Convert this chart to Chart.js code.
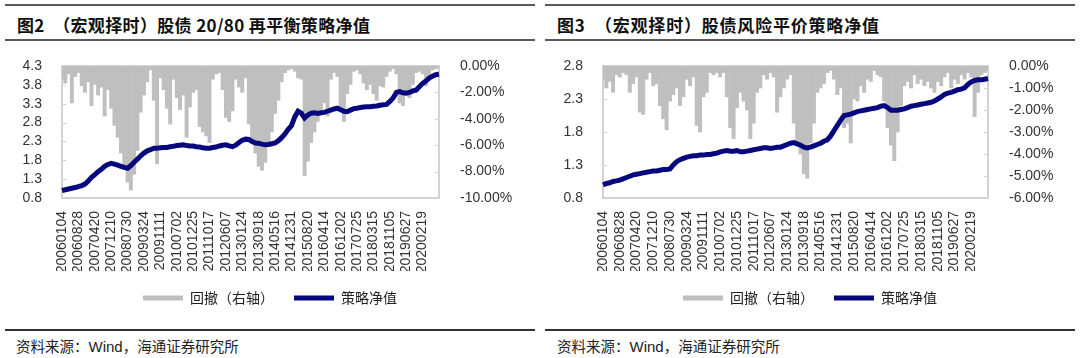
<!DOCTYPE html>
<html>
<head>
<meta charset="utf-8">
<script src="https://cdn.jsdelivr.net/npm/chart.js@4/dist/chart.umd.min.js"></script>
<style>
  body { margin: 0; width: 1080px; height: 358px; background: #fff; position: relative; overflow: hidden; font-family: "Noto Sans CJK SC", sans-serif; color: #111; }
  .rule { position: absolute; height: 2px; background: #5a5a5a; }
  .ttl { position: absolute; top: 14px; line-height: 22px; font-size: 17px; font-weight: bold; letter-spacing: 0.8px; white-space: pre; }
  .src { position: absolute; top: 336px; line-height: 20px; font-size: 14.5px; color: #222; white-space: pre; }
  .src .w { font-family: "Liberation Sans", Arial, sans-serif; font-size: 15px; }
  .box { position: absolute; top: 44px; width: 540px; height: 271px; }
</style>
</head>
<body>
<div class="rule" style="left:5px;width:530px;top:4px"></div>
<div class="rule" style="left:5px;width:530px;top:39px"></div>
<div class="ttl" style="left:17px;letter-spacing:0.35px">图2  （宏观择时）股债 20/80 再平衡策略净值</div>
<div class="box" style="left:0"><canvas id="chart1" width="540" height="271"></canvas></div>
<div class="rule" style="left:5px;width:530px;top:329px;background:#333"></div>
<div class="src" style="left:16px">资料来源：<span class="w">Wind</span>，海通证券研究所</div>

<div class="rule" style="left:545px;width:530px;top:4px"></div>
<div class="rule" style="left:545px;width:530px;top:39px"></div>
<div class="ttl" style="left:557px">图3  （宏观择时）股债风险平价策略净值</div>
<div class="box" style="left:540px"><canvas id="chart2" width="540" height="271"></canvas></div>
<div class="rule" style="left:545px;width:530px;top:329px;background:#333"></div>
<div class="src" style="left:557px">资料来源：<span class="w">Wind</span>，海通证券研究所</div>

<script>
var dates = ["20060104","20060828","20070420","20071210","20080730","20090324","20091111","20100702",
  "20101225","20111017","20120607","20130124","20130918","20140516","20141231","20150820",
  "20160414","20161202","20170725","20180315","20181105","20190627","20200219"];

// 股债 20/80 再平衡
var nav1 = [1.00,1.02,1.04,1.06,1.08,1.10,1.13,1.17,1.25,1.35,
  1.42,1.50,1.56,1.64,1.69,1.72,1.70,1.67,1.64,1.61,
  1.59,1.66,1.75,1.83,1.92,1.99,2.05,2.08,2.12,2.12,
  2.13,2.14,2.14,2.16,2.17,2.19,2.20,2.21,2.19,2.18,
  2.18,2.16,2.15,2.13,2.12,2.12,2.14,2.15,2.18,2.20,
  2.21,2.18,2.16,2.20,2.27,2.33,2.36,2.35,2.30,2.26,
  2.25,2.23,2.21,2.22,2.24,2.26,2.32,2.40,2.50,2.62,
  2.72,2.95,3.10,3.05,2.92,3.00,3.05,3.06,3.04,3.06,
  3.07,3.10,3.13,3.16,3.18,3.14,3.10,3.09,3.13,3.17,
  3.18,3.20,3.21,3.22,3.22,3.23,3.24,3.26,3.27,3.28,
  3.36,3.45,3.60,3.62,3.59,3.58,3.60,3.64,3.66,3.75,
  3.84,3.90,3.98,4.03,4.07,4.08];
var dd1 = [-1.0,-1.3,-0.6,-2.8,-0.8,-0.5,-1.5,-2.0,-1.2,-3.0,
  -1.4,-2.2,-1.6,-3.8,-1.8,-3.2,-4.5,-5.4,-6.6,-7.8,
  -8.8,-9.4,-8.2,-6.4,-3.5,-2.2,-1.2,-0.3,-2.6,-7.4,
  -0.9,-1.8,-3.2,-4.4,-1.0,-2.4,-3.3,-2.2,-5.4,-3.1,
  -2.0,-1.8,-4.6,-5.0,-5.3,-5.8,-1.0,-0.6,-0.5,-1.8,
  -3.9,-4.2,-3.4,-1.0,-1.6,-2.0,-0.9,-4.4,-5.6,-6.6,
  -7.6,-7.9,-7.3,-6.0,-5.0,-3.6,-2.6,-1.2,-0.5,-0.3,
  -0.2,-0.4,-0.9,-1.0,-8.3,-7.2,-5.8,-5.0,-4.2,-3.4,
  -2.8,-3.8,-1.0,-0.5,-0.8,-3.3,-4.2,-2.1,-1.4,-0.4,
  -0.3,-0.6,-1.3,-1.8,-1.4,-2.1,-2.6,-1.5,-1.6,-0.8,
  -0.4,-0.2,-0.6,-2.8,-3.0,-2.2,-2.4,-1.4,-0.5,-0.4,
  -0.6,-1.5,-1.0,-0.3,-0.2,-0.1];

// 股债风险平价
var nav2 = [1.00,1.02,1.03,1.05,1.06,1.07,1.09,1.11,1.13,1.15,
  1.16,1.17,1.18,1.19,1.20,1.21,1.21,1.22,1.23,1.23,
  1.24,1.30,1.35,1.38,1.40,1.42,1.43,1.44,1.44,1.45,
  1.45,1.46,1.46,1.47,1.48,1.50,1.51,1.52,1.51,1.51,
  1.52,1.50,1.50,1.51,1.52,1.53,1.54,1.55,1.56,1.56,
  1.55,1.56,1.57,1.57,1.59,1.61,1.63,1.64,1.62,1.60,
  1.57,1.56,1.57,1.59,1.61,1.63,1.66,1.68,1.74,1.82,
  1.90,1.98,2.05,2.06,2.07,2.09,2.11,2.12,2.13,2.14,
  2.15,2.16,2.17,2.19,2.20,2.17,2.13,2.13,2.13,2.14,
  2.15,2.17,2.19,2.20,2.21,2.22,2.23,2.24,2.25,2.27,
  2.30,2.33,2.37,2.39,2.40,2.42,2.44,2.45,2.47,2.52,
  2.56,2.58,2.59,2.59,2.60,2.61];
var dd2 = [-0.6,-1.0,-0.7,-1.2,-0.4,-0.5,-0.3,-0.4,-1.2,-0.8,
  -0.5,-2.1,-2.2,-0.6,-0.3,-0.9,-0.8,-1.8,-2.4,-2.9,
  -1.6,-1.3,-1.0,-1.8,-1.4,-0.6,-0.9,-0.5,-2.7,-3.0,
  -1.4,-1.2,-0.3,-0.4,-0.3,-0.5,-0.3,-1.4,-2.8,-3.3,
  -1.9,-1.2,-1.6,-2.0,-3.3,-2.6,-1.2,-1.0,-0.4,-0.6,
  -0.3,-0.5,-2.1,-1.4,-1.0,-0.6,-0.4,-2.6,-3.5,-4.0,
  -4.9,-5.1,-3.5,-2.6,-1.2,-1.0,-0.8,-0.3,-0.2,-0.6,
  -1.3,-1.0,-2.8,-2.6,-3.5,-1.5,-1.6,-0.9,-1.2,-0.6,
  -0.7,-0.2,-0.4,-0.5,-1.6,-2.8,-3.6,-4.3,-3.0,-1.8,
  -0.9,-0.7,-1.0,-0.4,-0.8,-0.6,-0.9,-0.7,-1.0,-1.2,
  -0.7,-0.9,-0.5,-0.3,-1.0,-0.6,-0.8,-0.4,-0.6,-0.3,
  -0.5,-2.3,-1.2,-0.4,-0.3,-0.2];

Chart.defaults.font.family = '"Liberation Sans", Arial, sans-serif';
Chart.defaults.font.size = 14;
Chart.defaults.color = "#333";

// one date label every 5 points
function makeLabels(n) {
  var out = [];
  for (var i = 0; i < n; i++) {
    out.push(i % 5 === 0 && dates[i / 5] ? dates[i / 5] : "");
  }
  return out;
}

// light grey frame round the plot, with short inner ticks
var framePlugin = {
  id: "frame",
  beforeDatasetsDraw: function (chart) {
    var a = chart.chartArea, ctx = chart.ctx;
    ctx.save();
    ctx.strokeStyle = "#d3d3d3";
    ctx.lineWidth = 2;
    ctx.strokeRect(a.left, a.top, a.right - a.left, a.bottom - a.top);
    ctx.lineWidth = 1;
    ctx.beginPath();
    chart.scales.y.ticks.forEach(function (t) {
      var py = Math.round(chart.scales.y.getPixelForValue(t.value)) + 0.5;
      ctx.moveTo(a.left, py); ctx.lineTo(a.left + 4, py);
    });
    chart.scales.y1.ticks.forEach(function (t) {
      var py = Math.round(chart.scales.y1.getPixelForValue(t.value)) + 0.5;
      ctx.moveTo(a.right - 4, py); ctx.lineTo(a.right, py);
    });
    ctx.stroke();
    ctx.restore();
  }
};

function makeChart(id, nav, dd, yMin, yMax, ddMin, ddStep, leftW, rightW) {
  return new Chart(id, {
    data: {
      labels: makeLabels(nav.length),
      datasets: [{
        type: "bar",
        label: "回撤（右轴）",
        data: dd,
        yAxisID: "y1",
        backgroundColor: "#bfbfbf",
        borderWidth: 0,
        barPercentage: 1,
        categoryPercentage: 1,
        order: 1
      }, {
        type: "line",
        label: "策略净值",
        data: nav,
        yAxisID: "y",
        borderColor: "#08087e",
        backgroundColor: "#08087e",
        borderWidth: 5,
        pointRadius: 0,
        tension: 0,
        order: 0
      }]
    },
    options: {
      responsive: false,
      animation: false,
      layout: { padding: { top: 22, left: 0, right: 0, bottom: 0 } },
      plugins: {
        legend: {
          position: "bottom",
          labels: {
            boxWidth: 40,
            boxHeight: 5,
            padding: 20,
            color: "#222",
            font: { family: '"Noto Sans CJK SC", sans-serif', size: 14 },
            sort: function (a, b) { return a.datasetIndex - b.datasetIndex; },
            generateLabels: function (chart) {
              var items = Chart.defaults.plugins.legend.labels.generateLabels(chart);
              items.forEach(function (it) { it.lineWidth = 0; });
              return items;
            }
          }
        },
        tooltip: { enabled: false }
      },
      scales: {
        x: {
          offset: false,
          grid: { display: false },
          border: { display: false },
          ticks: { autoSkip: false, minRotation: 90, maxRotation: 90, padding: 5 },
          afterFit: function (s) { s.height = 73; }
        },
        y: {
          position: "left",
          min: yMin,
          max: yMax,
          grid: { display: false },
          border: { display: false },
          ticks: { autoSkip: false, stepSize: 0.5, padding: 12, callback: function (v) { return v.toFixed(1); } },
          afterFit: function (s) { s.width = leftW; }
        },
        y1: {
          position: "right",
          min: ddMin,
          max: 0,
          grid: { display: false },
          border: { display: false },
          ticks: { autoSkip: false, stepSize: ddStep, padding: 13, callback: function (v) { return v.toFixed(2) + "%"; } },
          afterFit: function (s) { s.width = rightW; }
        }
      }
    },
    plugins: [framePlugin]
  });
}

makeChart("chart1", nav1, dd1, 0.8, 4.3, -10, 2, 62, 101);
makeChart("chart2", nav2, dd2, 0.8, 2.8, -6, 1, 63, 92);
</script>
</body>
</html>
